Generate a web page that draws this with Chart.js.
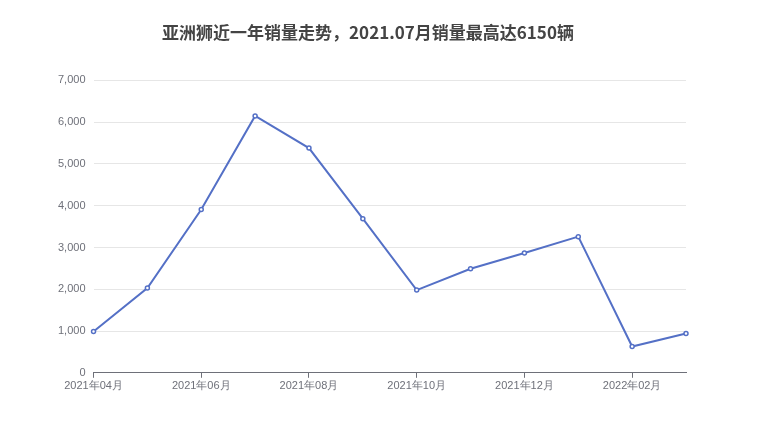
<!DOCTYPE html>
<html><head><meta charset="utf-8">
<script src="https://cdn.jsdelivr.net/npm/chart.js@4"></script>
<style>html,body{margin:0;padding:0;background:#fff}#w{width:780px;height:440px}</style>
</head><body><div id="w"><canvas id="c"></canvas></div>
<script>
const categories = ['2021年04月','2021年05月','2021年06月','2021年07月','2021年08月','2021年09月','2021年10月','2021年11月','2021年12月','2022年01月','2022年02月','2022年03月'];
const sales = [990,2030,3910,6150,5380,3690,1980,2490,2870,3260,630,940];
const yTicks = [0,1000,2000,3000,4000,5000,6000,7000];
new Chart(document.getElementById('c'), {
  type: 'line',
  data: { labels: categories, datasets: [{ data: sales, borderColor: '#5470c6', borderWidth: 2, pointRadius: 2, pointBorderWidth: 1.5, pointBackgroundColor: '#fff', pointBorderColor: '#5470c6', tension: 0, clip: false }] },
  options: {
    responsive: true, maintainAspectRatio: false, animation: false,
    layout: { padding: { left: 50, right: 94, top: 12, bottom: 45 } },
    plugins: {
      legend: { display: false },
      title: { display: true, text: '亚洲狮近一年销量走势，2021.07月销量最高达6150辆', color: '#444', font: { size: 17, weight: 'bold', family: 'Noto Sans CJK SC' }, padding: { top: 10, bottom: 38 } }
    },
    scales: {
      x: { offset: false,
        grid: { display: true, drawOnChartArea: false, drawTicks: true, tickLength: 5, color: (c) => (c.index % 2 === 0 ? '#6e7079' : 'rgba(0,0,0,0)') },
        border: { color: '#6e7079' },
        ticks: { autoSkip: false, maxRotation: 0, color: '#6e7079', padding: 2, font: { size: 11, family: 'Liberation Sans' }, callback: (v, i) => (i % 2 === 0 ? categories[i] : '') } },
      y: { min: 0, max: 7000, afterBuildTicks: (a) => { a.ticks = yTicks.map(v => ({ value: v })); },
        grid: { color: '#e6e6e6', drawTicks: false }, border: { display: false },
        ticks: { padding: 8, color: '#6e7079', font: { size: 11, family: 'Liberation Sans' }, callback: (v) => v.toLocaleString('en-US') } }
    }
  }
});
</script></body></html>
